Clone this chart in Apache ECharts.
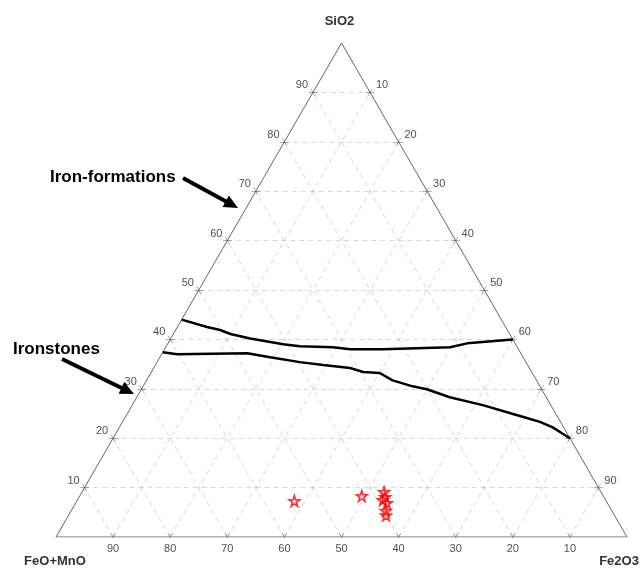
<!DOCTYPE html>
<html>
<head>
<meta charset="utf-8">
<script src="https://cdn.jsdelivr.net/npm/echarts@6/dist/echarts.min.js"></script>
<style>html,body{margin:0;padding:0;background:#fff;}#chart{width:643px;height:570px;}</style>
</head>
<body>
<div id="chart"></div>
<script>
// ---- data (ternary: [SiO2, Fe2O3], FeO+MnO = 100 - SiO2 - Fe2O3) ----
const tickValues = [10, 20, 30, 40, 50, 60, 70, 80, 90];
const apexLabels = ['SiO2', 'FeO+MnO', 'Fe2O3'];
const upperBoundary = [[44,0],[42.5,5.2],[41.9,7.8],[41.1,10.0],[40.2,13.9],[39.0,20.3],[38.6,23.4],[38.4,29.3],[38.0,32.5],[38.0,38.3],[38.2,44.1],[38.4,49.8],[39.2,52.4],[40,60]];
const lowerBoundary = [[37.4,0],[37.0,2.7],[37.2,14.9],[36.4,19.3],[35.4,25.0],[34.8,29.4],[34.2,34.4],[33.4,37.1],[33.2,40.1],[31.7,43.1],[30.5,47.2],[29.9,50.0],[28.3,54.8],[26.7,61.4],[24.9,67.6],[24.1,70.4],[23.3,73.1],[22.2,75.9],[21.0,78.1],[20,80]];
const sampleSiO2  = [7.3, 8.3, 9.1, 8.1, 7.5, 6.9, 5.3, 4.4];
const sampleFe2O3 = [38.1, 49.4, 52.9, 53.6, 53.5, 54.5, 55.1, 55.6];
const annotations = ['Iron-formations', 'Ironstones'];

// ---- helpers ----
const H = Math.sqrt(3) / 2;
function xy(s, f) { return [f + s / 2, s * H]; }

const gridSegs = [];
tickValues.forEach(v => {
  gridSegs.push({coords: [xy(v, 0), xy(v, 100 - v)]});        // SiO2 const
  gridSegs.push({coords: [xy(0, v), xy(100 - v, v)]});        // Fe2O3 const
  gridSegs.push({coords: [xy(0, 100 - v), xy(100 - v, 0)]});  // FeO const
});

const L = 0.75;
function seg(p, d) { return {coords: [[p[0] - d[0]*L, p[1] - d[1]*L], [p[0] + d[0]*L, p[1] + d[1]*L]]}; }
const tickSegs = [];
const leftLab = [], rightLab = [], botLab = [];
tickValues.forEach(v => {
  const pl = xy(v, 0);
  tickSegs.push(seg(pl, [1, 0]), seg(pl, [-0.5, H]));
  leftLab.push({value: pl, name: String(v)});
  const pr = xy(100 - v, v);
  tickSegs.push(seg(pr, [1, 0]), seg(pr, [0.5, H]));
  rightLab.push({value: pr, name: String(v)});
  const pb = xy(0, 100 - v);
  tickSegs.push(seg(pb, [0.5, H]), seg(pb, [-0.5, H]));
  botLab.push({value: pb, name: String(v)});
});

function labSeries(data, offset) {
  return {
    type: 'scatter', data: data, symbolSize: 1, silent: true,
    itemStyle: {color: 'rgba(0,0,0,0)'},
    label: {show: true, position: 'inside', offset: offset, formatter: p => p.name,
            fontSize: 11, color: '#222', fontFamily: 'Liberation Sans, Arial, sans-serif'},
    z: 5
  };
}

function arrow(x1, y1, x2, y2) {
  const dx = x2 - x1, dy = y2 - y1, len = Math.hypot(dx, dy);
  const ux = dx / len, uy = dy / len, hl = 14, hw = 6.5;
  const bx = x2 - ux * hl, by = y2 - uy * hl;
  return [
    {type: 'line', shape: {x1: x1, y1: y1, x2: bx + ux * 2, y2: by + uy * 2}, style: {stroke: '#000', lineWidth: 4}},
    {type: 'polygon', shape: {points: [[x2, y2], [bx - uy * hw, by + ux * hw], [bx + uy * hw, by - ux * hw]]}, style: {fill: '#000'}}
  ];
}

const chart = echarts.init(document.getElementById('chart'));
const font = 'Liberation Sans, Arial, sans-serif';
chart.setOption({
  animation: false,
  grid: {left: 56, top: 43, width: 571, height: 494},
  xAxis: {type: 'value', min: 0, max: 100, show: false},
  yAxis: {type: 'value', min: 0, max: 100 * H, show: false},
  series: [
    {type: 'lines', coordinateSystem: 'cartesian2d', data: gridSegs, silent: true,
     lineStyle: {color: '#b0b0b0', width: 1, type: [5, 4]}, z: 1},
    {type: 'line', data: [xy(0, 0), xy(0, 100), xy(100, 0), xy(0, 0)], showSymbol: false, silent: true,
     lineStyle: {color: '#666', width: 1}, z: 2},
    {type: 'lines', coordinateSystem: 'cartesian2d', data: tickSegs, silent: true,
     lineStyle: {color: '#555', width: 1}, z: 3},
    labSeries(leftLab, [-11, -7]),
    labSeries(rightLab, [12, -7]),
    labSeries(botLab, [0, 12]),
    {type: 'line', data: upperBoundary.map(p => xy(p[0], p[1])), showSymbol: false, silent: true,
     lineStyle: {color: '#000', width: 2.5}, z: 6},
    {type: 'line', data: lowerBoundary.map(p => xy(p[0], p[1])), showSymbol: false, silent: true,
     lineStyle: {color: '#000', width: 2.5}, z: 6},
    {type: 'scatter', data: sampleSiO2.map((s, i) => xy(s, sampleFe2O3[i])),
     symbol: 'path://M50,0 L61,35 L98,35 L68,57 L79,91 L50,70 L21,91 L32,57 L2,35 L39,35 Z',
     symbolSize: 11, itemStyle: {color: 'rgba(255,60,60,0.25)', borderColor: '#ff0000', borderWidth: 1.5}, z: 7}
  ],
  graphic: [
    {type: 'text', style: {text: apexLabels[0], x: 339.5, y: 21, align: 'center', verticalAlign: 'middle', font: 'bold 13px ' + font, fill: '#333'}},
    {type: 'text', style: {text: apexLabels[1], x: 55, y: 561, align: 'center', verticalAlign: 'middle', font: 'bold 13px ' + font, fill: '#333'}},
    {type: 'text', style: {text: apexLabels[2], x: 619, y: 561, align: 'center', verticalAlign: 'middle', font: 'bold 13px ' + font, fill: '#333'}},
    {type: 'text', style: {text: annotations[0], x: 50, y: 177, align: 'left', verticalAlign: 'middle', font: 'bold 17px ' + font, fill: '#000'}},
    {type: 'text', style: {text: annotations[1], x: 13, y: 349, align: 'left', verticalAlign: 'middle', font: 'bold 17px ' + font, fill: '#000'}},
    ...arrow(183, 178, 238, 208),
    ...arrow(62, 359, 134, 394)
  ]
});
</script>
</body>
</html>
